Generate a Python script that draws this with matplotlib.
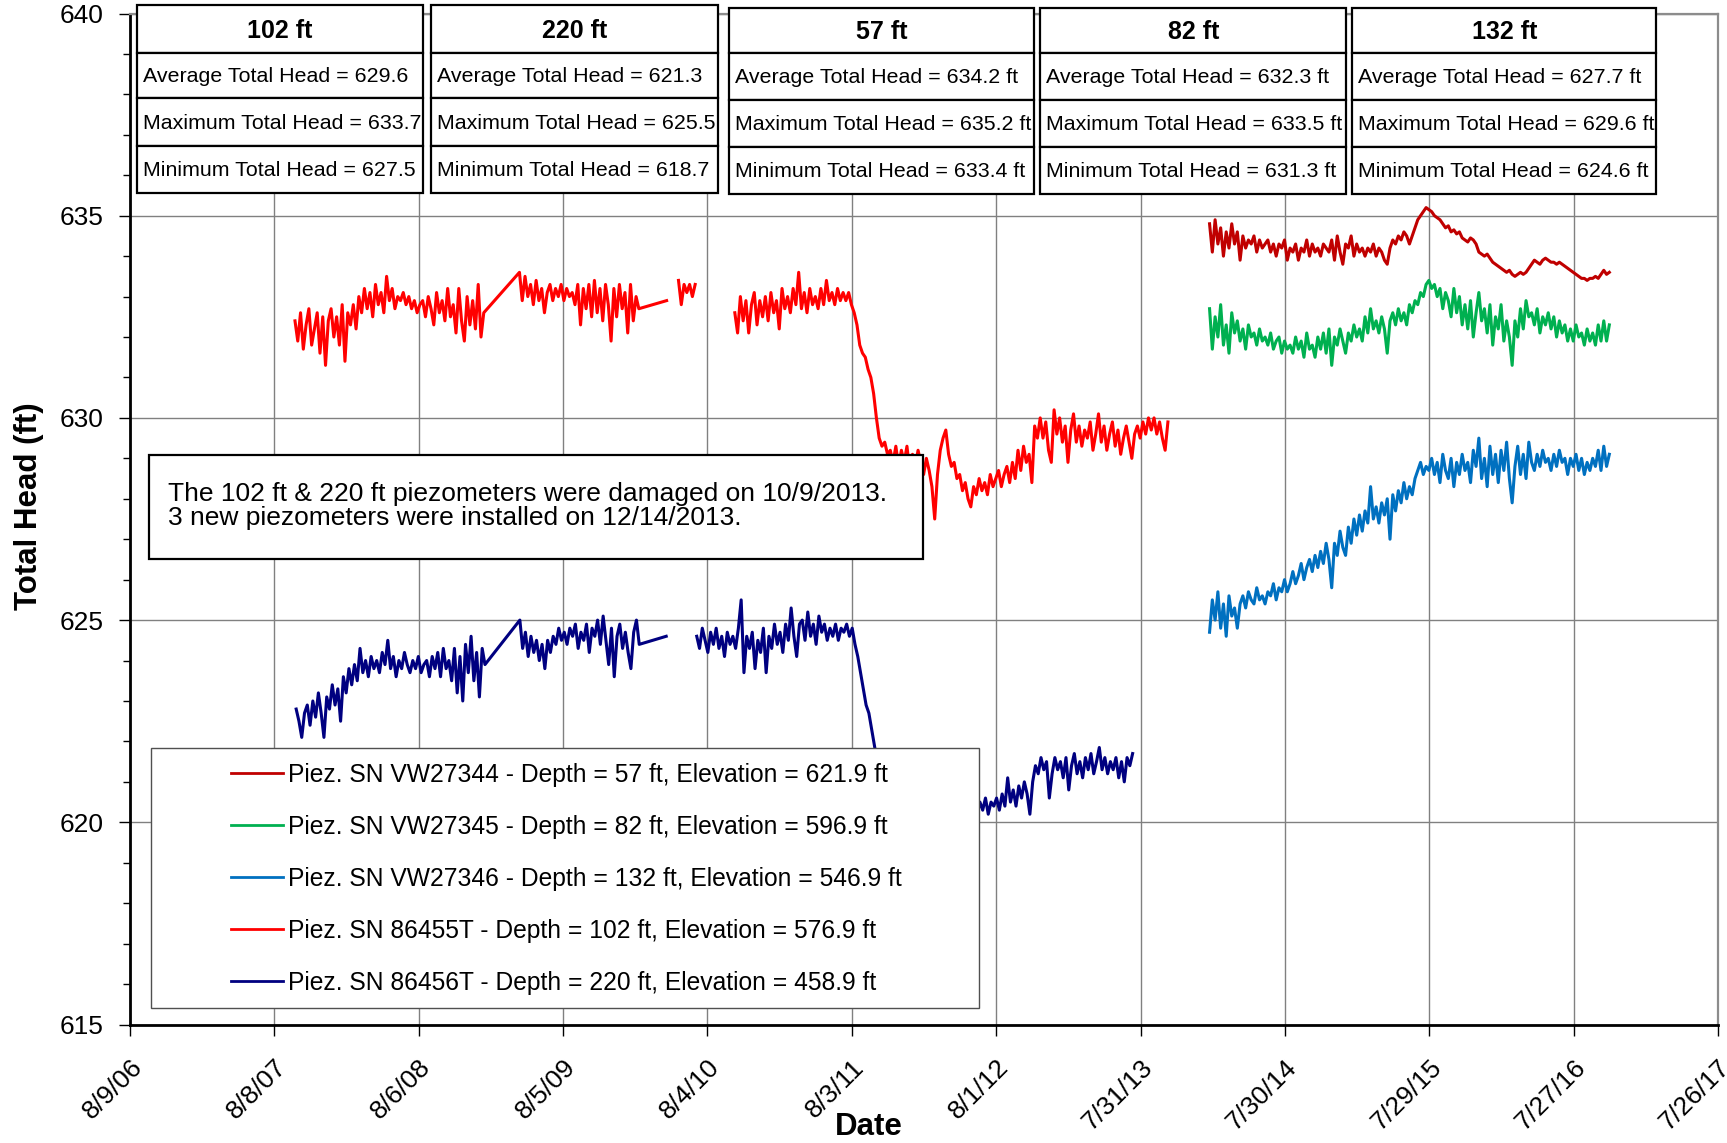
import numpy as np
import pandas as pd
import matplotlib
matplotlib.use("Agg")
import matplotlib.pyplot as plt
from matplotlib.patches import Rectangle
from matplotlib.transforms import Affine2D
from matplotlib.ticker import MultipleLocator

plt.rcParams['font.family'] = ['Liberation Sans', 'DejaVu Sans']

STEP = "7D"   # readings were picked off the chart once a week

# ---------------- data (total head, ft) ----------------
# new piezometers, installed Dec 2013
new_start = "2014-01-21"
vw27344 = [
    634.8, 634.1, 634.9, 634.3, 634.7, 634.0, 634.6, 634.2, 634.8, 634.3,
    634.6, 633.9, 634.5, 634.2, 634.4, 634.3, 634.5, 634.1, 634.4, 634.2,
    634.3, 634.4, 634.1, 634.3, 634.0, 634.3, 634.2, 634.4, 633.9, 634.2,
    634.1, 634.3, 633.9, 634.2, 634.1, 634.4, 634.0, 634.3, 634.1, 634.2,
    634.0, 634.3, 634.2, 634.1, 634.4, 633.9, 634.5, 634.1, 633.8, 634.3,
    634.2, 634.5, 634.0, 634.3, 634.1, 634.2, 634.0, 634.2, 634.1, 634.3,
    634.0, 634.2, 634.1, 633.9, 633.8, 634.2, 634.4, 634.3, 634.5, 634.4,
    634.6, 634.5, 634.3, 634.5, 634.7, 634.9, 635.0, 635.1, 635.2, 635.15,
    635.1, 635.0, 634.95, 634.9, 634.8, 634.7, 634.75, 634.6, 634.65, 634.55,
    634.6, 634.45, 634.4, 634.35, 634.45, 634.4, 634.3, 634.1, 634.05, 634.0,
    634.05, 633.95, 633.85, 633.8, 633.75, 633.7, 633.65, 633.6, 633.65, 633.55,
    633.5, 633.55, 633.6, 633.55, 633.6, 633.7, 633.8, 633.9, 633.85, 633.8,
    633.9, 633.95, 633.9, 633.85, 633.85, 633.8, 633.85, 633.8, 633.75, 633.7,
    633.65, 633.6, 633.55, 633.5, 633.45, 633.45, 633.4, 633.45, 633.45, 633.5,
    633.45, 633.55, 633.65, 633.55, 633.6,
]
vw27345 = [
    632.7, 631.7, 632.5, 632.0, 632.8, 631.8, 632.3, 631.6, 632.6, 632.1,
    632.4, 631.9, 632.2, 631.7, 632.3, 632.0, 632.1, 631.8, 632.2, 631.9,
    632.0, 631.8, 632.1, 631.7, 631.9, 632.0, 631.6, 631.9, 631.7, 631.8,
    631.6, 632.0, 631.7, 631.9, 631.5, 632.1, 631.7, 631.8, 631.5, 632.0,
    631.7, 632.1, 631.6, 632.2, 631.3, 632.0, 631.8, 632.2, 631.9, 631.6,
    632.1, 631.9, 632.3, 632.0, 632.2, 631.9, 632.5, 632.1, 632.7, 632.2,
    632.4, 632.1, 632.5, 632.2, 631.6, 632.4, 632.6, 632.3, 632.7, 632.4,
    632.6, 632.3, 632.8, 632.6, 632.9, 632.8, 633.1, 633.0, 633.3, 633.4,
    633.2, 633.3, 633.0, 633.2, 632.7, 633.1, 632.9, 632.5, 633.2, 632.6,
    633.0, 632.3, 632.8, 632.2, 632.9, 632.0, 632.6, 633.1, 632.4, 632.7,
    632.1, 632.8, 631.8, 632.5, 632.2, 632.8, 631.9, 632.4, 632.0, 631.3,
    632.4, 632.0, 632.7, 632.2, 632.9, 632.5, 632.6, 632.3, 632.7, 632.1,
    632.5, 632.3, 632.6, 632.2, 632.5, 632.0, 632.4, 632.1, 632.3, 631.9,
    632.2, 631.9, 632.3, 632.0, 632.1, 631.8, 632.2, 631.9, 632.1, 631.8,
    632.3, 631.9, 632.4, 631.9, 632.3,
]
vw27346 = [
    624.7, 625.5, 625.0, 625.7, 624.8, 625.4, 624.6, 625.6, 625.1, 625.3,
    624.8, 625.4, 625.6, 625.3, 625.7, 625.5, 625.4, 625.8, 625.5, 625.6,
    625.4, 625.7, 625.6, 625.9, 625.5, 625.8, 625.7, 626.0, 625.7, 625.9,
    626.2, 625.9, 626.1, 626.4, 626.0, 626.3, 626.5, 626.2, 626.6, 626.3,
    626.7, 626.4, 626.9, 626.5, 625.8, 626.9, 626.6, 627.2, 626.8, 626.6,
    627.3, 626.9, 627.5, 627.1, 627.6, 627.2, 627.7, 627.4, 628.3, 627.5,
    627.8, 627.4, 627.9, 627.6, 628.0, 627.0, 628.1, 627.7, 628.2, 627.9,
    628.4, 628.0, 628.3, 628.1, 628.5, 628.7, 628.9, 628.6, 628.8, 628.7,
    629.0, 628.6, 628.9, 628.4, 629.1, 628.7, 628.5, 629.0, 628.3, 628.9,
    628.6, 629.1, 628.7, 628.9, 628.4, 629.2, 628.8, 629.5, 628.5, 629.0,
    628.3, 629.3, 628.6, 629.1, 628.4, 629.2, 628.7, 629.4, 628.5, 627.9,
    628.8, 629.3, 628.6, 629.1, 628.5, 629.4, 628.9, 628.7, 629.1, 628.8,
    629.2, 628.9, 629.0, 628.7, 629.1, 628.8, 629.2, 628.9, 629.0, 628.6,
    629.0, 628.8, 629.1, 628.7, 629.0, 628.6, 628.9, 628.7, 629.0, 628.8,
    629.2, 628.7, 629.3, 628.8, 629.1,
]

# old piezometer 86455T (102 ft), pieces between data gaps
p86455_a_start = "2007-09-29"
p86455_a = [
    632.4, 631.9, 632.6, 631.7, 632.3, 632.7, 631.8, 632.2, 632.6, 631.6,
    632.5, 631.3, 632.4, 632.7, 632.0, 632.5, 631.8, 632.8, 631.4, 632.6,
    632.3, 632.8, 632.2, 633.0, 632.6, 633.2, 632.7, 633.1, 632.5, 633.3,
    632.8, 633.1, 632.6, 633.5, 632.9, 633.2, 632.7, 633.0, 632.9, 633.1,
    632.8, 633.0, 632.7, 632.9, 632.6, 632.8, 632.9, 632.5, 633.0, 632.7,
    632.3, 633.1, 632.6, 632.9, 632.4, 633.2, 632.5, 632.8, 632.1, 633.2,
    632.4, 631.9, 633.0, 632.3, 632.9, 632.2, 633.3, 632.0, 632.6,
]
p86455_b_start = "2009-04-17"
p86455_b = [
    633.6, 632.9, 633.5, 633.0, 633.3, 632.8, 633.4, 632.9, 633.2, 632.6,
    633.1, 633.3, 632.9, 633.2, 633.0, 633.3, 632.9, 633.2, 633.0, 633.1,
    632.8, 633.3, 632.3, 633.2, 632.7, 633.3, 632.5, 633.4, 632.6, 633.2,
    632.4, 633.3, 632.8, 631.9, 633.2, 632.5, 633.3, 632.7, 633.1, 632.1,
    633.3, 632.4, 633.0, 632.7,
]
p86455_b2_start = "2010-04-23"
p86455_b2 = [632.9]
p86455_c_start = "2010-05-23"
p86455_c = [633.4, 632.8, 633.3, 633.1, 633.3, 633.0, 633.3]
p86455_d_start = "2010-10-12"
p86455_d = [
    632.6, 632.1, 633.0, 632.4, 632.9, 632.1, 632.8, 633.1, 632.3, 632.9,
    632.5, 633.0, 632.4, 633.1, 632.6, 632.9, 632.2, 633.2, 632.7, 633.0,
    632.6, 633.2, 632.8, 633.6, 632.7, 633.1, 632.6, 633.2, 632.8, 633.0,
    632.7, 633.2, 632.8, 633.4, 632.9, 633.1, 632.8, 633.2, 632.9, 633.1,
    632.9, 633.1, 632.8, 632.6, 632.3, 631.8, 631.6, 631.5, 631.2, 631.0,
    630.6, 630.0, 629.5, 629.3, 629.4, 629.1, 629.2, 628.9, 629.3, 628.8,
    629.2, 628.9, 629.3, 628.7, 629.1, 628.8, 629.2, 628.9, 628.6, 629.0,
    628.7, 628.3, 627.5, 628.6, 629.2, 629.5, 629.7, 629.1, 628.8, 628.9,
    628.5, 628.6, 628.2, 628.4, 628.0, 627.8, 628.3, 628.1, 628.5, 628.2,
    628.4, 628.1, 628.6, 628.3, 628.5, 628.7, 628.3, 628.6, 628.8, 628.4,
    628.9, 628.5, 629.2, 628.7, 629.3, 628.9, 629.1, 628.4, 629.8, 629.5,
    630.0, 629.5, 629.9, 629.2, 628.9, 630.2, 629.6, 630.0, 629.4, 629.8,
    628.9, 629.7, 630.1, 629.4, 629.8, 629.3, 629.7, 629.5, 629.9, 629.2,
    629.6, 630.1, 629.4, 629.8, 629.2, 629.6, 629.9, 629.3, 629.7, 629.1,
    629.5, 629.8, 629.4, 629.0, 629.6, 629.8, 629.5, 629.9, 629.6, 630.0,
    629.7, 630.0, 629.6, 629.9, 629.5, 629.2, 629.9,
]

# old piezometer 86456T (220 ft)
p86456_a_start = "2007-10-02"
p86456_a = [
    622.8, 622.5, 622.1, 622.7, 622.9, 622.4, 623.0, 622.6, 623.2, 622.7,
    622.1, 623.1, 622.8, 623.4, 622.9, 623.3, 622.5, 623.6, 623.2, 623.8,
    623.4, 623.9, 623.5, 624.3, 623.7, 624.0, 623.6, 624.1, 623.8, 624.0,
    623.7, 624.2, 623.9, 624.5, 623.8, 624.1, 623.6, 624.0, 623.8, 624.2,
    623.9, 623.7, 624.0, 623.8, 624.1, 623.7, 623.9, 624.0, 623.6, 624.1,
    623.8, 624.2, 623.6, 624.3, 623.8, 624.0, 623.5, 624.3, 623.2, 624.1,
    623.0, 624.4, 623.7, 624.6, 623.5, 624.2, 623.1, 624.3, 623.9,
]
p86456_b_start = "2009-04-18"
p86456_b = [
    625.0, 624.3, 624.7, 624.1, 624.6, 624.2, 624.5, 624.0, 624.4, 623.8,
    624.5, 624.2, 624.6, 624.4, 624.8, 624.5, 624.7, 624.4, 624.8, 624.6,
    624.9, 624.3, 624.7, 624.5, 624.9, 624.2, 624.8, 624.6, 625.0, 624.4,
    625.1, 624.5, 623.9, 624.8, 623.6, 624.6, 624.9, 624.3, 624.7, 624.2,
    623.8, 624.7, 625.0, 624.4,
]
p86456_b2_start = "2010-04-22"
p86456_b2 = [624.6]
p86456_c_start = "2010-07-08"
p86456_c = [
    624.6, 624.3, 624.8, 624.5, 624.2, 624.7, 624.4, 624.8, 624.3, 624.6,
    624.1, 624.7, 624.4, 624.6, 624.3, 624.8, 625.5, 623.7, 624.6, 624.3,
    624.7, 623.8, 624.5, 624.2, 624.8, 623.7, 624.6, 624.3, 624.9, 624.4,
    624.7, 624.2, 624.9, 624.5, 625.3, 624.6, 624.1, 624.9, 625.0, 624.5,
    625.2, 624.6, 624.9, 624.4, 625.1, 624.7, 624.9, 624.5, 624.8, 624.6,
    624.9, 624.5, 624.8, 624.7, 624.9, 624.6, 624.8, 624.4, 624.1, 623.7,
    623.3, 622.9, 622.7, 622.3, 621.9, 621.5, 621.2, 621.0, 620.8, 620.9,
    620.7, 620.9, 620.6, 620.8, 620.7, 620.9, 620.6, 620.8, 620.5, 620.7,
    620.6, 620.8, 620.5, 620.3, 620.6, 620.8, 621.0, 621.1, 620.9, 621.0,
    620.8, 620.6, 620.7, 620.5, 620.3, 620.4, 620.2, 620.4, 620.1, 620.3,
    620.4, 620.2, 620.5, 620.3, 620.6, 620.2, 620.5, 620.4, 620.6, 620.3,
    620.7, 620.4, 621.1, 620.5, 620.8, 620.4, 620.9, 620.6, 621.0, 620.7,
    620.2, 621.0, 621.4, 621.2, 621.6, 621.3, 621.5, 620.6, 621.2, 621.6,
    621.3, 621.5, 621.1, 621.6, 620.8, 621.4, 621.7, 621.2, 621.5, 621.1,
    621.6, 621.3, 621.7, 621.2, 621.5, 621.85, 621.3, 621.6, 621.2, 621.5,
    621.3, 621.6, 621.1, 621.5, 621.0, 621.6, 621.4, 621.7,
]

legend_labels = [
    "Piez. SN VW27344 - Depth = 57 ft, Elevation = 621.9 ft",
    "Piez. SN VW27345 - Depth = 82 ft, Elevation = 596.9 ft",
    "Piez. SN VW27346 - Depth = 132 ft, Elevation = 546.9 ft",
    "Piez. SN 86455T - Depth = 102 ft, Elevation = 576.9 ft",
    "Piez. SN 86456T - Depth = 220 ft, Elevation = 458.9 ft",
]
colors = ["#C00000", "#00B050", "#0070C0", "#FF0000", "#000080"]

table_depths = ["102 ft", "220 ft", "57 ft", "82 ft", "132 ft"]
avg_head = [629.6, 621.3, 634.2, 632.3, 627.7]
max_head = [633.7, 625.5, 635.2, 633.5, 629.6]
min_head = [627.5, 618.7, 633.4, 631.3, 624.6]
head_units = ["", "", " ft", " ft", " ft"]

note = ("The 102 ft & 220 ft piezometers were damaged on 10/9/2013.\n"
        "3 new piezometers were installed on 12/14/2013.")

x_start, x_end = "2006-08-09", "2017-07-26"
tick_dates = pd.date_range(x_start, periods=12, freq="364D")
tick_labels = [f"{d.month}/{d.day}/{d:%y}" for d in tick_dates]


def build(segments):
    # join pieces; a None piece breaks the line
    dates, vals = [], []
    for piece in segments:
        if piece is None:
            dates.append(dates[-1])
            vals.append(np.nan)
            continue
        start, values = piece
        dates.extend(pd.date_range(start, periods=len(values), freq=STEP))
        vals.extend(values)
    return pd.DatetimeIndex(dates), np.array(vals, dtype=float)


series = [
    build([(new_start, vw27344)]),
    build([(new_start, vw27345)]),
    build([(new_start, vw27346)]),
    build([(p86455_a_start, p86455_a), (p86455_b_start, p86455_b),
           (p86455_b2_start, p86455_b2), None, (p86455_c_start, p86455_c),
           None, (p86455_d_start, p86455_d)]),
    build([(p86456_a_start, p86456_a), (p86456_b_start, p86456_b),
           (p86456_b2_start, p86456_b2), None, (p86456_c_start, p86456_c)]),
]

# ---------------- figure ----------------
W, H = 1727, 1143
fig = plt.figure(figsize=(W / 100, H / 100), dpi=100)
fig.subplots_adjust(left=130 / W, right=1718 / W, bottom=1 - 1024.5 / H, top=1 - 13.5 / H)
ax = fig.add_subplot(111)
# pixel coordinates, origin at top-left of the image
px = Affine2D().scale(1 / W, -1 / H).translate(0, 1) + fig.transFigure

handles = []
for (x, y), c in zip(series[::-1], colors[::-1]):
    handles.append(ax.plot(x, y, color=c, lw=2.2, zorder=2)[0])
handles = handles[::-1]

ax.set_xlim(pd.Timestamp(x_start), pd.Timestamp(x_end))
ax.set_ylim(615, 640)
ax.set_xticks(tick_dates)
ax.set_xticklabels(tick_labels, rotation=45, ha="right", va="top", rotation_mode="anchor")
ax.yaxis.set_major_locator(MultipleLocator(5))
ax.yaxis.set_minor_locator(MultipleLocator(1))
ax.tick_params(axis="both", which="major", labelsize=19, length=8, width=1, color="black")
ax.tick_params(axis="y", which="major", pad=11)
ax.tick_params(axis="x", which="major", pad=14)
ax.tick_params(axis="y", which="minor", length=5, width=1)
ax.grid(True, which="major", color="#808080", lw=1)

for side in ["left", "bottom"]:
    ax.spines[side].set_color("black")
    ax.spines[side].set_linewidth(2)
for side in ["top", "right"]:
    ax.spines[side].set_color("#8c8c8c")
    ax.spines[side].set_linewidth(1.6)

ax.set_xlabel("Date", fontsize=22.5, fontweight="bold", va="center")
ax.xaxis.set_label_coords(869, 1127, transform=px)
ax.set_ylabel("Total Head (ft)", fontsize=22.5, fontweight="bold", va="center", ha="center")
ax.yaxis.set_label_coords(29, 506, transform=px)

# note box
ax.add_patch(Rectangle((149, 455), 774, 104, transform=px, facecolor="white",
                       edgecolor="black", lw=1.6, zorder=4, clip_on=False))
ax.text(168, 506, note, transform=px, fontsize=19, ha="left", va="center",
        linespacing=0.95, zorder=5)

# legend box
ax.add_patch(Rectangle((151, 748), 828, 260, transform=px, facecolor="white",
                       edgecolor="#505050", lw=1, zorder=4, clip_on=False))
leg = ax.legend(handles, legend_labels, loc="upper left", bbox_to_anchor=(231, 763),
                bbox_transform=px, frameon=False, fontsize=17.7, borderpad=0,
                borderaxespad=0, handlelength=2.1, handletextpad=0.23,
                labelspacing=1.14)
leg.set_zorder(5)
for ln in leg.get_lines():
    ln.set_linewidth(2)

# statistics tables across the top
table_x = [(136.7, 423), (430.7, 718.5), (729, 1034), (1040.5, 1346), (1352, 1656.5)]
table_rows = [[5, 52.7, 98.3, 146, 192.7]] * 2 + [[7.5, 53.3, 100, 146.7, 193.5]] * 3
for i, depth in enumerate(table_depths):
    x0, x1 = table_x[i]
    rows = table_rows[i]
    u = head_units[i]
    texts = [depth,
             f"Average Total Head = {avg_head[i]:.1f}{u}",
             f"Maximum Total Head = {max_head[i]:.1f}{u}",
             f"Minimum Total Head = {min_head[i]:.1f}{u}"]
    for r, t in enumerate(texts):
        y0, y1 = rows[r], rows[r + 1]
        ax.add_patch(Rectangle((x0, y0), x1 - x0, y1 - y0, transform=px, facecolor="white",
                               edgecolor="black", lw=1.6, zorder=6, clip_on=False))
        if r == 0:
            ax.text((x0 + x1) / 2, (y0 + y1) / 2 + 2, t, transform=px, fontsize=18,
                    fontweight="bold", ha="center", va="center", zorder=7, clip_on=False)
        else:
            ax.text(x0 + 6, (y0 + y1) / 2 + 1, t, transform=px, fontsize=15.4,
                    ha="left", va="center", zorder=7, clip_on=False)

fig.savefig("out.png", dpi=100)
